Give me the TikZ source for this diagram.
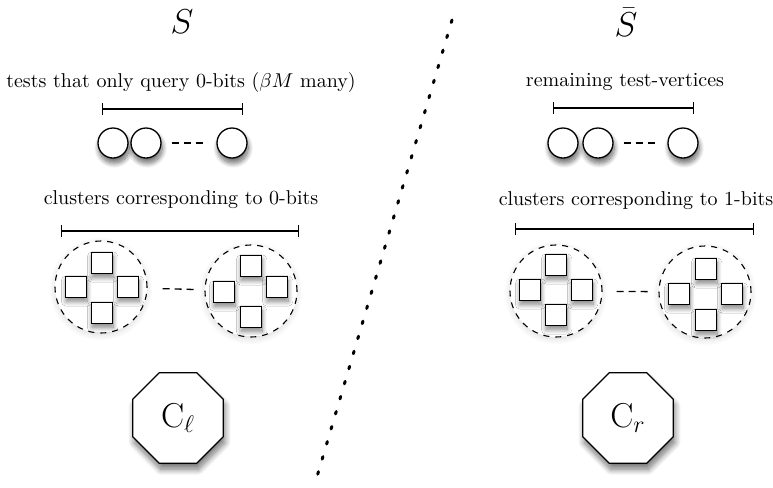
\documentclass[tikz,border=0pt]{standalone}
\usetikzlibrary{shapes.geometric,shadows.blur,arrows.meta}
\begin{document}
\begin{tikzpicture}[x=0.5pt,y=-0.5pt,
    testv/.style={circle,draw,line width=0.65pt,fill=white,minimum size=15pt,inner sep=0pt,
        blur shadow={shadow xshift=0.6pt,shadow yshift=-2.5pt,shadow blur radius=2.5pt,shadow blur steps=12,shadow opacity=60}},
    member/.style={rectangle,draw,line width=0.8pt,fill=white,minimum size=10.4pt,inner sep=0pt,
        blur shadow={shadow xshift=0.3pt,shadow yshift=-2pt,shadow blur radius=2.4pt,shadow blur steps=12,shadow opacity=50}},
    cluster/.style={circle,draw,dashed,line width=0.55pt,fill=white,minimum size=46pt,inner sep=0pt,
        blur shadow={shadow xshift=0pt,shadow yshift=-1pt,shadow blur radius=3pt,shadow blur steps=10,shadow opacity=15}},
    proc/.style={regular polygon,regular polygon sides=8,draw,line width=0.65pt,fill=white,
        minimum size=49pt,inner sep=0pt,font=\LARGE,
        blur shadow={shadow xshift=0.8pt,shadow yshift=-3pt,shadow blur radius=3pt,shadow blur steps=12,shadow opacity=55}},
    span/.style={{Bar[width=6pt]}-{Bar[width=6pt]},line width=0.65pt},
    gap/.style={dashed,line width=0.65pt,dash pattern=on 3.5pt off 2.5pt,shorten <=5pt,shorten >=5pt}]
\useasboundingbox (0,0) rectangle (773,488);

% the two sides of the cut
\node (S) at (182,22) {\LARGE $S$};
\node (Sbar) at (626,22) {\LARGE $\bar{S}$};
\coordinate (cutTop) at (452,20);
\coordinate (cutBot) at (316,480);
\draw[line width=1.5pt,line cap=round,dash pattern=on 1.3pt off 6.55pt] (cutTop) -- (cutBot);

% test vertices
\node (lblTl) at (181,82) {tests that only query 0-bits ($\beta M$ many)};
\coordinate (brTlA) at (102,109);
\coordinate (brTlB) at (243,109);
\draw[span] (brTlA) -- (brTlB);
\node[testv] (tl1) at (113,143) {};
\node[testv] (tl2) at (146,143) {};
\node[testv] (tl3) at (232,143) {};
\draw[gap] (tl2) -- (tl3);

\node (lblTr) at (625,82) {remaining test-vertices};
\coordinate (brTrA) at (553,108);
\coordinate (brTrB) at (694,108);
\draw[span] (brTrA) -- (brTrB);
\node[testv] (tr1) at (563,143) {};
\node[testv] (tr2) at (598,143) {};
\node[testv] (tr3) at (683,143) {};
\draw[gap] (tr2) -- (tr3);

% clusters
\node (lblCl) at (181,200) {clusters corresponding to 0-bits};
\coordinate (brClA) at (61,231);
\coordinate (brClB) at (299,231);
\draw[span] (brClA) -- (brClB);
\node[cluster] (cl1) at (101,287) {};
\node[member] (m1a) at (102,263) {};
\node[member] (m1b) at (76,287) {};
\node[member] (m1c) at (128,287) {};
\node[member] (m1d) at (102,313) {};
\node[cluster] (cl2) at (251,291) {};
\node[member] (m2a) at (251,266) {};
\node[member] (m2b) at (224,292) {};
\node[member] (m2c) at (277,287) {};
\node[member] (m2d) at (251,317) {};
\draw[gap,shorten <=7.5pt,shorten >=4pt] (cl1) -- (cl2);

\node (lblCr) at (636,201) {clusters corresponding to 1-bits};
\coordinate (brCrA) at (515,229);
\coordinate (brCrB) at (754,229);
\draw[span] (brCrA) -- (brCrB);
\node[cluster] (cl3) at (556,291) {};
\node[member] (m3a) at (556,265) {};
\node[member] (m3b) at (530,290) {};
\node[member] (m3c) at (582,290) {};
\node[member] (m3d) at (556,315) {};
\node[cluster] (cl4) at (705,292) {};
\node[member] (m4a) at (706,269) {};
\node[member] (m4b) at (679,294) {};
\node[member] (m4c) at (732,294) {};
\node[member] (m4d) at (706,320) {};
\draw[gap,shorten <=7pt,shorten >=4.5pt] (cl3) -- (cl4);

% the two players
\node[proc] (Cl) at (178,418) {$\mathrm{C}_\ell$};
\node[proc] (Cr) at (628,418) {$\mathrm{C}_r$};
\end{tikzpicture}
\end{document}
